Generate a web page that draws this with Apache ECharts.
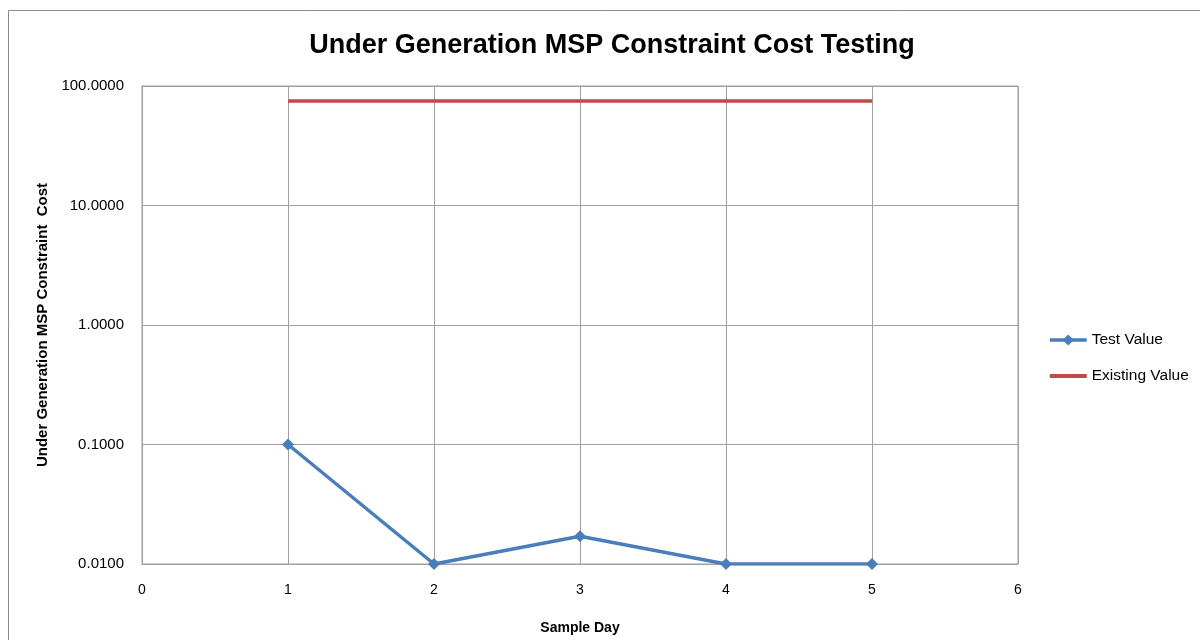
<!DOCTYPE html>
<html>
<head>
<meta charset="utf-8">
<script src="https://cdn.jsdelivr.net/npm/echarts@6/dist/echarts.min.js"></script>
<style>
  html, body { margin: 0; padding: 0; background: #fff; }
  #chart { width: 1200px; height: 640px; }
</style>
</head>
<body>
<div id="chart"></div>
<script>
// sample days and the two series
const days = [1, 2, 3, 4, 5];
const testValue = [0.1, 0.01, 0.0171, 0.01, 0.01];
const existingValue = [75, 75, 75, 75, 75];

const font = 'Liberation Sans';
const chart = echarts.init(document.getElementById('chart'));

chart.setOption({
    animation: false,
    backgroundColor: '#fff',
    title: {
        text: 'Under Generation MSP Constraint Cost Testing',
        left: 607,
        top: 27,
        textAlign: 'center',
        textStyle: { fontFamily: font, fontSize: 27, fontWeight: 'bold', color: '#000' }
    },
    graphic: [{
        type: 'rect',
        shape: { x: 8.5, y: 10.5, width: 1200, height: 640 },
        style: { fill: 'none', stroke: '#8c8c8c', lineWidth: 1 },
        silent: true
    }],
    legend: {
        orient: 'vertical',
        left: 1043,
        top: 327,
        itemGap: 20,
        itemWidth: 37,
        itemHeight: 14,
        lineStyle: { width: 3.5 },
        textStyle: { fontFamily: font, fontSize: 15.5, color: '#000' },
        data: [
            { name: 'Test Value' },
            { name: 'Existing Value', icon: 'path://M0,0H38V4H0Z' }
        ]
    },
    grid: {
        left: 142, right: 182, top: 86, bottom: 75,
        show: true, borderColor: '#a0a0a0', borderWidth: 1
    },
    xAxis: {
        type: 'value',
        min: 0, max: 6, interval: 1,
        name: 'Sample Day',
        nameLocation: 'middle',
        nameGap: 57,
        nameTextStyle: { fontFamily: font, fontSize: 14, fontWeight: 'bold', color: '#000' },
        axisLine: { lineStyle: { color: '#a0a0a0' } },
        axisTick: { show: false },
        axisLabel: { fontFamily: font, fontSize: 14, color: '#000', margin: 19 },
        splitLine: { show: true, lineStyle: { color: '#a0a0a0', width: 1 } }
    },
    yAxis: {
        type: 'log',
        logBase: 10,
        min: 0.01, max: 100,
        name: 'Under Generation MSP Constraint  Cost',
        nameLocation: 'middle',
        nameGap: 92,
        nameTextStyle: { fontFamily: font, fontSize: 15, fontWeight: 'bold', color: '#000' },
        axisLine: { show: true, lineStyle: { color: '#a0a0a0' } },
        axisTick: { show: false },
        axisLabel: {
            fontFamily: font, fontSize: 15, color: '#000', margin: 18,
            formatter: v => Number(v).toFixed(4)
        },
        splitLine: { show: true, lineStyle: { color: '#a0a0a0', width: 1 } }
    },
    series: [
        {
            name: 'Test Value',
            type: 'line',
            data: days.map((d, i) => [d, testValue[i]]),
            symbol: 'diamond',
            symbolSize: 12,
            color: '#4a7ebb',
            lineStyle: { width: 3.5, color: '#4a7ebb' },
            itemStyle: { color: '#4a7ebb' }
        },
        {
            name: 'Existing Value',
            type: 'line',
            data: days.map((d, i) => [d, existingValue[i]]),
            symbol: 'none',
            color: '#be4b48',
            itemStyle: { color: '#be4b48' },
            lineStyle: { width: 3.5, color: '#be4b48' }
        }
    ]
});
</script>
</body>
</html>
